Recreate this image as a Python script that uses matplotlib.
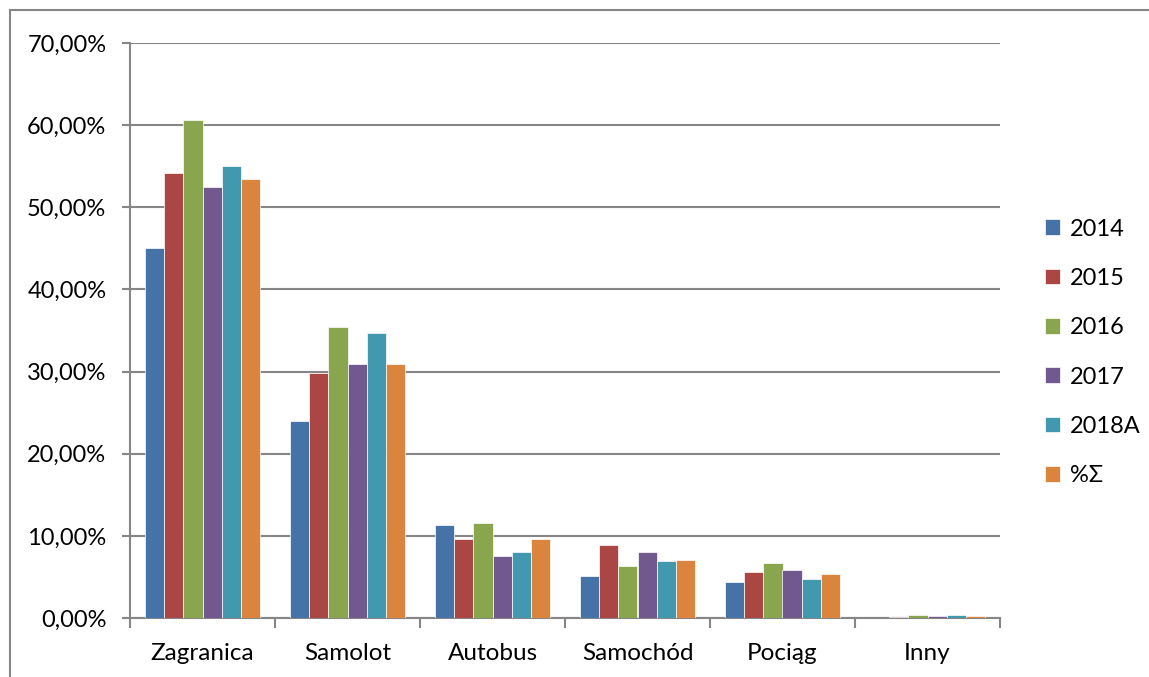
import matplotlib.pyplot as plt
import numpy as np
from matplotlib.patches import Rectangle
from matplotlib.ticker import FuncFormatter, MultipleLocator

categories = ["Zagranica", "Samolot", "Autobus", "Samochód", "Pociąg", "Inny"]
series = ["2014", "2015", "2016", "2017", "2018A", "%Σ"]
v2014 = [45.1, 24.0, 11.3, 5.1, 4.4, 0.05]
v2015 = [54.2, 29.8, 9.6, 8.9, 5.6, 0.12]
v2016 = [60.6, 35.4, 11.6, 6.3, 6.7, 0.35]
v2017 = [52.5, 30.9, 7.5, 8.0, 5.8, 0.2]
v2018A = [55.0, 34.7, 8.0, 6.9, 4.7, 0.35]
vsum = [53.4, 30.9, 9.6, 7.1, 5.4, 0.2]
values = [v2014, v2015, v2016, v2017, v2018A, vsum]
colors = ["#4572A7", "#AA4643", "#89A54E", "#71588F", "#4198AF", "#DB843D"]

plt.rcParams['font.family'] = ['Lato', 'DejaVu Sans']

fig = plt.figure(figsize=(11.49, 6.77), dpi=100)
ax = fig.add_axes([130/1149, 1-618/677, 870/1149, 575/677])

x = np.arange(len(categories))
w = 0.133
for i, (name, vals) in enumerate(zip(series, values)):
    ax.bar(x + (i - 2.5)*w, vals, w, color=colors[i], label=name,
           edgecolor="white", linewidth=0.5, zorder=3)

ax.set_xlim(-0.5, 5.5)
ax.set_ylim(0, 70)
ax.yaxis.set_major_locator(MultipleLocator(10))
ax.yaxis.set_major_formatter(FuncFormatter(lambda v, p: f"{v:.2f}%".replace(".", ",")))
ax.grid(axis="y", color="#868686", linewidth=1.5, zorder=0)

ax.set_xticks(x)
ax.set_xticklabels(categories)
ax.set_xticks(np.arange(-0.5, 6, 1), minor=True)
ax.tick_params(axis="x", which="major", length=0, pad=18, labelsize=17.5)
ax.tick_params(axis="x", which="minor", length=7, width=1.5, color="#868686")
ax.tick_params(axis="y", length=6, width=1.5, color="#868686", labelsize=17, pad=11)

for s in ["top", "right"]:
    ax.spines[s].set_visible(False)
for s in ["left", "bottom"]:
    ax.spines[s].set_color("#868686")
    ax.spines[s].set_linewidth(1.5)

ax.legend(loc="center left", bbox_to_anchor=(1.041, 0.462), frameon=False,
          fontsize=17, handlelength=0.65, handleheight=0.65,
          handletextpad=0.4, labelspacing=1.2, borderaxespad=0)

fig.patches.append(Rectangle((10/1149, -0.1), 1.2, 1.1 - 10/677, fill=False,
                             edgecolor="#868686", linewidth=1.5,
                             transform=fig.transFigure, figure=fig))

fig.savefig("out.png", dpi=100)
